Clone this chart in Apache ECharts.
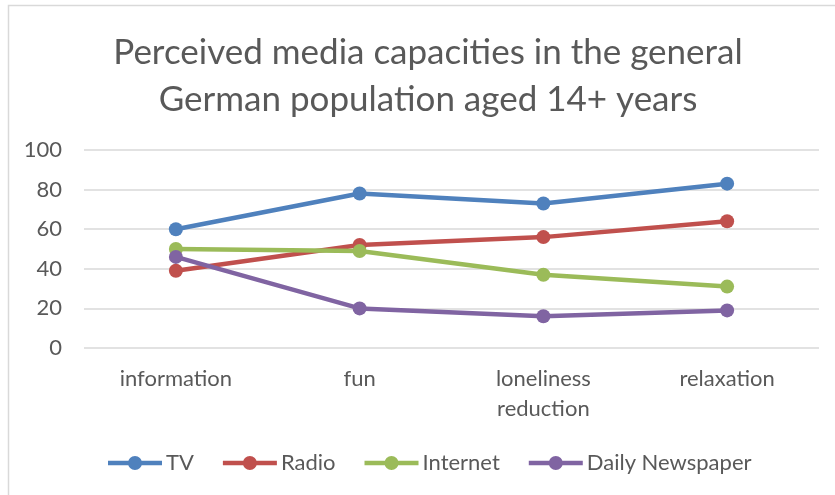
<!DOCTYPE html>
<html>
<head>
<meta charset="utf-8">
<script src="https://cdn.jsdelivr.net/npm/echarts@6/dist/echarts.min.js"></script>
<style>
  html, body { margin: 0; padding: 0; background: #fff; }
  #chart { width: 835px; height: 495px; }
</style>
</head>
<body>
<div id="chart"></div>
<script>
// Media capacity categories and survey shares (%) per medium
const categories = ['information', 'fun', 'loneliness\nreduction', 'relaxation'];
const tv = [60, 78, 73, 83];
const radio = [39, 52, 56, 64];
const internet = [50, 49, 37, 31];
const newspaper = [46, 20, 16, 19];
const yTicks = [0, 20, 40, 60, 80, 100];

const seriesNames = ['TV', 'Radio', 'Internet', 'Daily Newspaper'];
const seriesData = [tv, radio, internet, newspaper];
const colors = ['#4f81bd', '#c0504d', '#9bbb59', '#8064a2'];

const FONT = 'Lato, "Open Sans", sans-serif';
const TEXT = '#595959';

// Legend key: thick line segment with a dot in the middle (54 x 14 box)
const LEGEND_ICON = 'path://M0,4.75H21.5V9.25H0Z M32.5,4.75H54V9.25H32.5Z M20,7A7,7 0 1,1 34,7A7,7 0 1,1 20,7Z';

const chart = echarts.init(document.getElementById('chart'), null, { renderer: 'canvas' });

chart.setOption({
  animation: false,
  color: colors,
  graphic: [
    {
      type: 'rect',
      z: -1,
      shape: { x: 8.5, y: 5.5, width: 900, height: 600 },
      style: { fill: 'none', stroke: '#d9d9d9', lineWidth: 1.5 }
    },
    {
      type: 'text',
      x: 428,
      y: 29,
      style: {
        text: 'Perceived media capacities in the general\nGerman population aged 14+ years',
        align: 'center',
        verticalAlign: 'top',
        font: '35px ' + FONT,
        lineHeight: 47,
        fill: TEXT
      }
    }
  ],
  grid: { left: 84, right: 16, top: 150, bottom: 147, containLabel: false },
  legend: {
    left: 103,
    top: 447,
    itemWidth: 54,
    itemHeight: 14,
    itemGap: 29,
    icon: LEGEND_ICON,
    textStyle: { fontFamily: FONT, fontSize: 22, color: TEXT, padding: [0, 0, 0, -1] },
    data: seriesNames
  },
  xAxis: {
    type: 'category',
    data: categories,
    boundaryGap: true,
    axisLine: { show: false },
    axisTick: { show: false },
    axisLabel: { fontFamily: FONT, fontSize: 22, color: TEXT, margin: 16, lineHeight: 30 }
  },
  yAxis: {
    type: 'value',
    min: yTicks[0],
    max: yTicks[yTicks.length - 1],
    interval: yTicks[1] - yTicks[0],
    axisLine: { show: false },
    axisTick: { show: false },
    axisLabel: { fontFamily: FONT, fontSize: 22, color: TEXT, margin: 22 },
    splitLine: { lineStyle: { color: '#d9d9d9', width: 1.5 } }
  },
  series: seriesNames.map((name, i) => ({
    name: name,
    type: 'line',
    data: seriesData[i],
    symbol: 'circle',
    symbolSize: 14,
    lineStyle: { width: 4.5, color: colors[i] },
    itemStyle: { color: colors[i] }
  }))
});
</script>
</body>
</html>
